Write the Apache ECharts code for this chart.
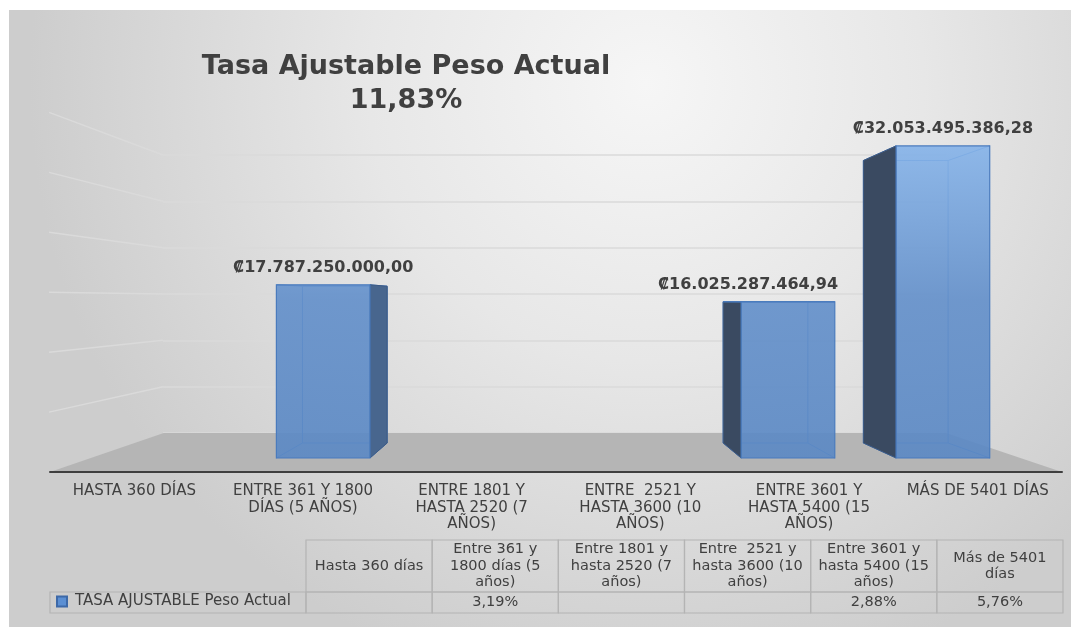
<!DOCTYPE html>
<html>
<head>
<meta charset="utf-8">
<title>Tasa Ajustable Peso Actual</title>
<script src="https://cdn.jsdelivr.net/npm/echarts@6/dist/echarts.min.js"></script>
<style>
html, body { margin: 0; padding: 0; background: #fff; }
#chart { width: 1078px; height: 633px; }
</style>
</head>
<body>
<div id="chart"></div>
<script>
// categorias del eje
const categorias = [
  'HASTA 360 DÍAS',
  'ENTRE 361 Y 1800\nDÍAS (5 AÑOS)',
  'ENTRE 1801 Y\nHASTA 2520 (7\nAÑOS)',
  'ENTRE  2521 Y\nHASTA 3600 (10\nAÑOS)',
  'ENTRE 3601 Y\nHASTA 5400 (15\nAÑOS)',
  'MÁS DE 5401 DÍAS'
]
// encabezados de la tabla de datos
const encabezados = [
  'Hasta 360 días',
  'Entre 361 y\n1800 días (5\naños)',
  'Entre 1801 y\nhasta 2520 (7\naños)',
  'Entre  2521 y\nhasta 3600 (10\naños)',
  'Entre 3601 y\nhasta 5400 (15\naños)',
  'Más de 5401\ndías'
]
// montos por tramo (colones)
const montos = [null, 17787250000.00, null, null, 16025287464.94, 32053495386.28]
// peso de cada tramo en la tasa (%)
const pesos = [null, 3.19, null, null, 2.88, 5.76]
const tasaTotal = 11.83
const serieNombre = 'TASA AJUSTABLE Peso Actual'
// lineas de la pared del fondo
const pared = [0, 1, 2, 3, 4, 5, 6]

// perspectiva (punto de fuga y profundidades)
const VP = [551, 300]
const K_FRENTE = 0.9186
const K_FONDO = 0.8314
const K_PARED = 0.773
const proy = (p, k) => [VP[0] + (p[0] - VP[0]) * k, VP[1] + (p[1] - VP[1]) * k]
const etiquetaDx = [0, 0, 0, 0, -40, 0]

const FUENTE = '"DejaVu Sans", sans-serif'

const colones = v => {
  const [ent, dec] = v.toFixed(2).split('.')
  return '₡' + ent.replace(/\B(?=(\d{3})+(?!\d))/g, '.') + ',' + dec
}
const porcentaje = p => p.toFixed(2).replace('.', ',') + '%'

const chart = echarts.init(document.getElementById('chart'))

// barras 3D
const renderBarra = (params, api) => {
  const i = api.value(0)
  const v = api.value(1)
  const base = api.coord([i, 0])
  const tope = api.coord([i, v])
  const half = api.size([1, 0])[0] * 0.302
  const c = {
    lt: [base[0] - half, tope[1]], rt: [base[0] + half, tope[1]],
    lb: [base[0] - half, base[1]], rb: [base[0] + half, base[1]]
  }
  const F = {}, B = {}
  Object.keys(c).forEach(k => { F[k] = proy(c[k], K_FRENTE); B[k] = proy(c[k], K_FONDO) })
  const aIzq = (F.lt[0] + F.rt[0]) / 2 < VP[0]
  const borde = '#4a7bbd'
  const children = []
  // aristas traseras (se ven por transparencia)
  children.push({
    type: 'polygon', shape: { points: [B.lt, B.rt, B.rb, B.lb] },
    style: { fill: 'none', stroke: '#5486c9', lineWidth: 1 }
  })
  ;['lt', 'rt', 'lb', 'rb'].forEach(k => children.push({
    type: 'line', shape: { x1: F[k][0], y1: F[k][1], x2: B[k][0], y2: B[k][1] },
    style: { stroke: '#5486c9', lineWidth: 1 }
  }))
  // cara lateral
  const lado = aIzq ? [F.rt, B.rt, B.rb, F.rb] : [F.lt, B.lt, B.lb, F.lb]
  children.push({
    type: 'polygon', shape: { points: lado },
    style: { fill: aIzq ? '#48668e' : '#3a4a61', stroke: '#3c5a85', lineWidth: 1 }
  })
  if (F.lt[1] > VP[1]) {
    children.push({
      type: 'polygon', shape: { points: [F.lt, F.rt, B.rt, B.lt] },
      style: { fill: '#7fa7dc', stroke: borde, lineWidth: 1 }
    })
  }
  // cara frontal
  children.push({
    type: 'rect',
    shape: { x: F.lt[0], y: F.lt[1], width: F.rt[0] - F.lt[0], height: F.lb[1] - F.lt[1] },
    style: {
      fill: new echarts.graphic.LinearGradient(0, 140, 0, 460, [
        { offset: 0, color: 'rgba(134,180,234,0.9)' },
        { offset: 0.5, color: 'rgba(98,143,202,0.9)' },
        { offset: 1, color: 'rgba(90,136,196,0.9)' }
      ], true),
      stroke: borde, lineWidth: 1.2
    }
  })
  children.push({
    type: 'text',
    style: {
      x: (F.lt[0] + F.rt[0]) / 2 + etiquetaDx[i], y: F.lt[1] - 17,
      text: colones(v), fill: '#404040',
      font: 'bold 16px ' + FUENTE,
      align: 'center', verticalAlign: 'middle'
    }
  })
  return { type: 'group', children }
}

// piso
const renderPiso = (params, api) => {
  const cs = params.coordSys
  const y = cs.y + cs.height
  const fl = [cs.x, y], fr = [cs.x + cs.width, y]
  return {
    type: 'polygon',
    shape: { points: [fl, fr, proy(fr, K_PARED), proy(fl, K_PARED)] },
    style: { fill: '#b5b5b5' }
  }
}

// lineas de la pared lateral izquierda
const renderPared = (params, api) => {
  const atras = api.coord([0, api.value(1)])
  const frente = [VP[0] + (atras[0] - VP[0]) / K_PARED, VP[1] + (atras[1] - VP[1]) / K_PARED]
  return {
    type: 'line',
    shape: { x1: frente[0], y1: frente[1], x2: atras[0], y2: atras[1] },
    style: { stroke: '#dadada', lineWidth: 1.5 }
  }
}

// tabla de datos
const ALTO_ENC = 52
const ANCHO_LEYENDA = 256
const renderCelda = (params, api) => {
  const i = api.value(0)
  const p = api.value(1)
  const cs = params.coordSys
  const w = api.size([1, 0])[0]
  const x = api.coord([i, 0])[0] - w / 2
  const yFila = cs.y + ALTO_ENC
  const altoFila = cs.height - ALTO_ENC
  const linea = { fill: 'none', stroke: '#b4b4b4', lineWidth: 1.2 }
  const font = '14.5px ' + FUENTE
  const children = [
    { type: 'rect', shape: { x, y: cs.y, width: w, height: ALTO_ENC }, style: linea },
    { type: 'rect', shape: { x, y: yFila, width: w, height: altoFila }, style: linea },
    {
      type: 'text',
      style: {
        x: x + w / 2, y: cs.y + ALTO_ENC / 2, text: encabezados[i], fill: '#404040',
        font, lineHeight: 16.5, align: 'center', verticalAlign: 'middle'
      }
    },
    {
      type: 'text',
      style: {
        x: x + w / 2, y: yFila + altoFila / 2, text: isNaN(p) ? '' : porcentaje(p), fill: '#404040',
        font, align: 'center', verticalAlign: 'middle'
      }
    }
  ]
  if (i === 0) {
    children.push({
      type: 'rect', shape: { x: x - ANCHO_LEYENDA, y: yFila, width: ANCHO_LEYENDA, height: altoFila }, style: linea
    })
  }
  return { type: 'group', children }
}

const option = {
  backgroundColor: '#ffffff',
  animation: false,
  graphic: [{
    type: 'rect', z: -10, silent: true,
    shape: { x: 9, y: 10, width: 1062, height: 617 },
    style: {
      fill: new echarts.graphic.RadialGradient(0.6, 0.12, 1, [
        { offset: 0, color: '#f6f6f6' },
        { offset: 0.45, color: '#e7e7e7' },
        { offset: 1, color: '#cdcdcd' }
      ])
    }
  }],
  title: {
    text: 'Tasa Ajustable Peso Actual\n' + porcentaje(tasaTotal),
    left: 406, top: 50, textAlign: 'center', padding: 0,
    textStyle: {
      fontFamily: FUENTE, fontWeight: 'bold', fontSize: 27,
      color: '#404040', lineHeight: 34
    }
  },
  legend: {
    data: [serieNombre], left: 56, top: 594, padding: 0,
    icon: 'rect', itemWidth: 10, itemHeight: 10,
    textStyle: { fontFamily: FUENTE, fontSize: 15, color: '#404040', padding: [0, 0, 0, 3] }
  },
  grid: [
    { left: 50, right: 16, top: 48, bottom: 161 },
    { left: 163, right: 132, top: 155, bottom: 200 },
    { left: 306, right: 15, top: 540, bottom: 20 }
  ],
  xAxis: [
    {
      type: 'category', gridIndex: 0, data: categorias, z: 3,
      axisLine: { lineStyle: { color: '#3f3f3f', width: 2 } },
      axisTick: { show: false },
      axisLabel: {
        interval: 0, margin: 11, color: '#404040', fontSize: 15, lineHeight: 16.5,
        fontFamily: FUENTE
      }
    },
    { type: 'value', gridIndex: 1, min: 0, max: 1, show: false },
    { type: 'category', gridIndex: 2, data: encabezados, show: false }
  ],
  yAxis: [
    { type: 'value', gridIndex: 0, min: 0, max: 40e9, show: false },
    {
      type: 'value', gridIndex: 1, min: 0, max: 6, interval: 1,
      axisLine: { show: false }, axisTick: { show: false }, axisLabel: { show: false },
      splitLine: { lineStyle: { color: '#dadada', width: 1.5 } }
    },
    { type: 'value', gridIndex: 2, min: 0, max: 1, show: false }
  ],
  series: [
    {
      type: 'custom', name: 'pared', xAxisIndex: 1, yAxisIndex: 1, z: 1, silent: true,
      renderItem: renderPared, data: pared.filter(v => v > 0).map(v => [0, v])
    },
    {
      type: 'custom', name: 'piso', xAxisIndex: 0, yAxisIndex: 0, z: 2, silent: true,
      renderItem: renderPiso, data: [[0, 0]]
    },
    {
      type: 'custom', name: serieNombre, xAxisIndex: 0, yAxisIndex: 0, z: 4,
      itemStyle: { color: '#5b8fd3', borderColor: '#3d69a8', borderWidth: 1 },
      renderItem: renderBarra,
      data: montos.map((v, i) => [i, v]).filter(d => d[1] != null)
    },
    {
      type: 'custom', name: 'tabla', xAxisIndex: 2, yAxisIndex: 2, z: 3, silent: true,
      renderItem: renderCelda,
      data: pesos.map((p, i) => [i, p == null ? '-' : p])
    }
  ]
}

chart.setOption(option)
</script>
</body>
</html>
